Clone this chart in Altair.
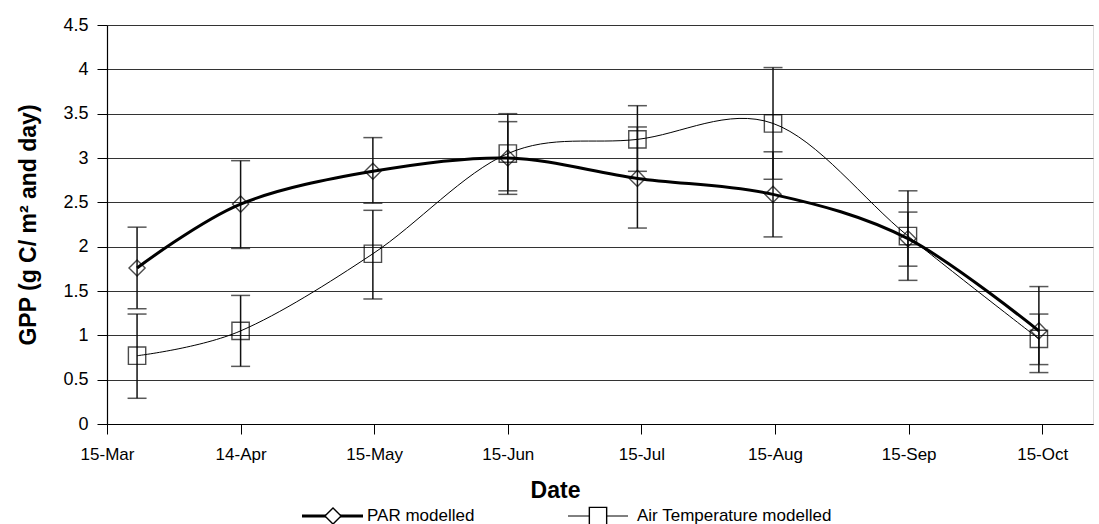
import altair as alt
import pandas as pd

# x positions in "month-tick" units (0 = 15-Mar, 1 = 14-Apr, ... 7 = 15-Oct)
x_pos = [0.225, 1.0, 1.99, 3.0, 3.97, 4.985, 5.995, 6.975]
tick_labels = ["15-Mar", "14-Apr", "15-May", "15-Jun", "15-Jul", "15-Aug", "15-Sep", "15-Oct"]

par_val = [1.76, 2.48, 2.85, 3.00, 2.77, 2.59, 2.09, 1.05]
par_hi = [2.22, 2.97, 3.23, 3.41, 3.35, 3.07, 2.39, 1.55]
par_lo = [1.30, 1.98, 2.49, 2.59, 2.21, 2.11, 1.78, 0.58]

air_val = [0.77, 1.05, 1.92, 3.05, 3.21, 3.39, 2.12, 0.96]
air_hi = [1.24, 1.45, 2.41, 3.50, 3.59, 4.02, 2.63, 1.24]
air_lo = [0.29, 0.65, 1.41, 2.63, 2.85, 2.76, 1.62, 0.67]

series_names = ["PAR modelled", "Air Temperature modelled"]

rows = []
for name, v, hi, lo in [(series_names[0], par_val, par_hi, par_lo),
                        (series_names[1], air_val, air_hi, air_lo)]:
    for i in range(len(x_pos)):
        rows.append({"series": name, "x": x_pos[i], "v": v[i], "hi": hi[i], "lo": lo[i]})
df = pd.DataFrame(rows)

FONT = "Liberation Sans"
W, H = 986, 399

label_expr = "[" + ",".join("'%s'" % t for t in tick_labels) + "][datum.value]"

xenc = alt.X("x:Q", scale=alt.Scale(domain=[0, 7.38], nice=False, zero=False),
             axis=alt.Axis(values=list(range(8)), labelExpr=label_expr, grid=False, labelFlush=False,
                           title="Date", titleFont=FONT, titleFontSize=23, titleFontWeight="bold",
                           titleX=448, titleY=66, titleBaseline="middle", titleAlign="center",
                           labelFont=FONT, labelFontSize=17, labelColor="#000", labelPadding=12,
                           tickSize=10, tickColor="#000", domainColor="#000", tickWidth=1, domainWidth=1.2))
yenc = alt.Y("v:Q", scale=alt.Scale(domain=[0, 4.5], nice=False),
             axis=alt.Axis(values=[i * 0.5 for i in range(10)], format=".1~f", labelFlush=False,
                           title="GPP (g C/ m² and day)", titleFont=FONT, titleFontSize=23,
                           titleFontWeight="bold", titleX=-79, titleY=H / 2, titleAngle=-90,
                           titleAlign="center", titleBaseline="middle",
                           labelFont=FONT, labelFontSize=18, labelColor="#000", labelPadding=9,
                           tickSize=10, tickColor="#000", domainColor="#000", domainWidth=1.2,
                           grid=True, gridColor="#333", gridWidth=1))

base = alt.Chart(df)

err = base.mark_rule(color="#111", strokeWidth=1.5).encode(
    x=alt.X("x:Q"), y=alt.Y("lo:Q"), y2="hi:Q")
cap_hi = base.mark_tick(color="#111", orient="horizontal", size=19, thickness=1.5).encode(
    x="x:Q", y="hi:Q")
cap_lo = base.mark_tick(color="#111", orient="horizontal", size=19, thickness=1.5).encode(
    x="x:Q", y="lo:Q")

par_line = alt.Chart(df[df.series == series_names[0]]).mark_line(
    color="#000", strokeWidth=3, interpolate="cardinal").encode(x=xenc, y=yenc)
air_line = alt.Chart(df[df.series == series_names[1]]).mark_line(
    color="#000", strokeWidth=1, interpolate="cardinal").encode(x="x:Q", y="v:Q")

par_pts = alt.Chart(df[df.series == series_names[0]]).mark_point(
    shape="diamond", size=260, filled=False, color="#000", strokeWidth=1.4).encode(x="x:Q", y="v:Q")
air_pts = alt.Chart(df[df.series == series_names[1]]).mark_point(
    shape="square", size=300, filled=False, color="#000", strokeWidth=1.4).encode(x="x:Q", y="v:Q")

# legend (pixel positions relative to plot area)
leg = pd.DataFrame({
    "series": series_names,
    "x0": [195, 461], "x1": [256, 521], "xs": [226, 491], "xt": [260, 530],
    "y": [491, 491], "sw": [3, 1], "shape": ["diamond", "square"], "sz": [260, 300],
})
leg_line = alt.Chart(leg).mark_rule(color="#000").encode(
    x=alt.X("x0:Q", scale=None), x2="x1:Q", y=alt.Y("y:Q", scale=None),
    strokeWidth=alt.StrokeWidth("sw:Q", scale=None, legend=None))
leg_sym = alt.Chart(leg).mark_point(filled=True, fill="white", stroke="#000", strokeWidth=1.4,
                                    opacity=1).encode(
    x=alt.X("xs:Q", scale=None), y=alt.Y("y:Q", scale=None),
    shape=alt.Shape("shape:N", scale=None, legend=None),
    size=alt.Size("sz:Q", scale=None, legend=None))
leg_txt = alt.Chart(leg).mark_text(align="left", baseline="middle", font=FONT, fontSize=17,
                                   color="#000").encode(
    x=alt.X("xt:Q", scale=None), y=alt.Y("y:Q", scale=None), text="series:N")

chart = alt.layer(err, cap_hi, cap_lo, par_line, air_line, par_pts, air_pts,
                  leg_line, leg_sym, leg_txt).properties(
    width=W, height=H,
    autosize=alt.AutoSizeParams(type="none"),
    padding={"left": 107, "top": 25, "right": 6, "bottom": 100},
).configure_view(stroke=None).configure(background="white")

chart.save("out.html", embed_options={"renderer": "svg", "actions": False})
